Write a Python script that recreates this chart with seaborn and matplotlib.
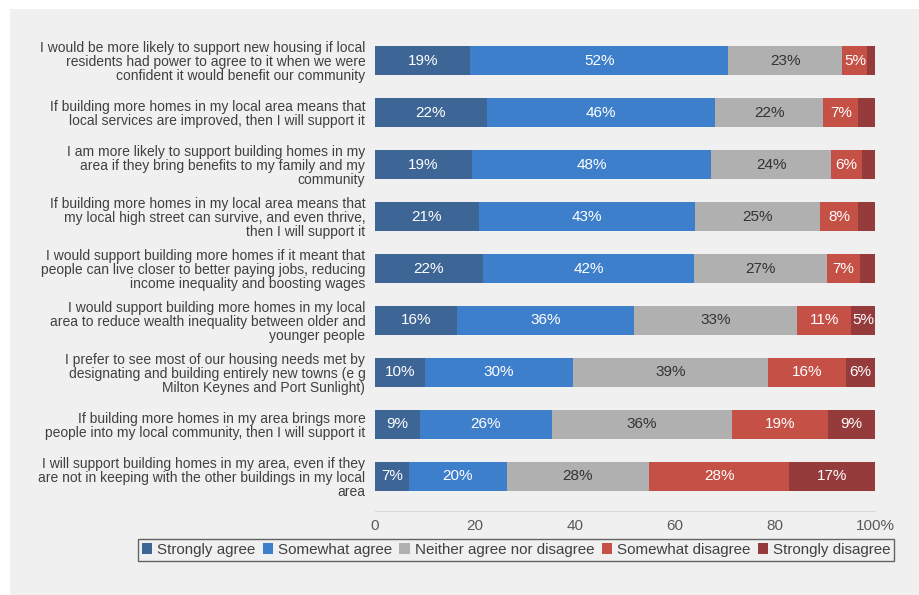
import matplotlib
matplotlib.use('Agg')
import matplotlib.pyplot as plt
from matplotlib.patches import Patch, Rectangle
import numpy as np
import pandas as pd
import seaborn as sns

questions = [
    "I would be more likely to support new housing if local\nresidents had power to agree to it when we were\nconfident it would benefit our community",
    "If building more homes in my local area means that\nlocal services are improved, then I will support it",
    "I am more likely to support building homes in my\narea if they bring benefits to my family and my\ncommunity",
    "If building more homes in my local area means that\nmy local high street can survive, and even thrive,\nthen I will support it",
    "I would support building more homes if it meant that\npeople can live closer to better paying jobs, reducing\nincome inequality and boosting wages",
    "I would support building more homes in my local\narea to reduce wealth inequality between older and\nyounger people",
    "I prefer to see most of our housing needs met by\ndesignating and building entirely new towns (e g\nMilton Keynes and Port Sunlight)",
    "If building more homes in my area brings more\npeople into my local community, then I will support it",
    "I will support building homes in my area, even if they\nare not in keeping with the other buildings in my local\narea",
]

strongly_agree = [19.1, 22.4, 19.4, 20.8, 21.6, 16.4, 10.0, 9.0, 6.8]
somewhat_agree = [51.6, 45.6, 47.8, 43.2, 42.2, 35.5, 29.6, 26.4, 19.6]
neither = [22.8, 21.7, 24.1, 25.0, 26.6, 32.6, 39.0, 36.0, 28.4]
somewhat_disagree = [5.0, 7.0, 6.1, 7.7, 6.6, 10.8, 15.6, 19.3, 28.1]
strongly_disagree = [1.5, 3.3, 2.6, 3.3, 3.0, 4.7, 5.8, 9.3, 17.1]

series = ['Strongly agree', 'Somewhat agree', 'Neither agree nor disagree',
          'Somewhat disagree', 'Strongly disagree']
colors = ['#3d6595', '#3e7fcc', '#b0b0b0', '#c55046', '#963b3b']
label_colors = ['white', 'white', '#333333', 'white', 'white']

df = pd.DataFrame({
    'question': questions,
    series[0]: strongly_agree,
    series[1]: somewhat_agree,
    series[2]: neither,
    series[3]: somewhat_disagree,
    series[4]: strongly_disagree,
})
cum = df[series].cumsum(axis=1)

bg = '#f0f0f0'
plt.rcParams['font.family'] = ['Liberation Sans', 'DejaVu Sans']

fig = plt.figure(figsize=(9.2, 5.95), dpi=100, facecolor='white')
fig.patches.append(Rectangle((10 / 920, 0), 1, 1 - 9 / 595,
                             transform=fig.transFigure, facecolor=bg,
                             edgecolor='none', zorder=-10))
ax = fig.add_axes([375 / 920, 84 / 595, 500 / 920, 476 / 595])
ax.set_facecolor(bg)

# draw cumulative totals from the right so each segment shows
for i in range(len(series) - 1, -1, -1):
    sns.barplot(x=cum[series[i]], y=df['question'], orient='h',
                color=colors[i], width=0.56, saturation=1, ax=ax)

for i, s in enumerate(series):
    for j, v in enumerate(df[s]):
        if v >= 4.5:
            ax.text(cum[s][j] - v / 2, j, f"{v:.0f}%", ha='center',
                    va='center', color=label_colors[i], fontsize=11)

ax.set_xlim(0, 100)
ax.set_ylim(8.67, -0.5)
ax.set_xticks([0, 20, 40, 60, 80, 100])
ax.set_xticklabels(['0', '20', '40', '60', '80', '100%'])
ax.set_xlabel('')
ax.set_ylabel('')
for sp in ['top', 'right', 'left']:
    ax.spines[sp].set_visible(False)
ax.spines['bottom'].set_color('#d9d9d9')
ax.tick_params(axis='y', length=0, pad=7, labelsize=10, labelcolor='#404040')
ax.tick_params(axis='x', length=0, pad=6, labelsize=11, labelcolor='#595959')
for t in ax.get_yticklabels():
    t.set_linespacing(1.0)

handles = [Patch(facecolor=c, edgecolor='none') for c in colors]
leg = fig.legend(handles, series, loc='center', bbox_to_anchor=(516 / 920, 1 - 550 / 595),
                 ncol=5, frameon=True, fancybox=False, fontsize=10.9,
                 handlelength=0.7, handleheight=0.7, handletextpad=0.3,
                 columnspacing=0.5, borderpad=0.25, labelcolor='#404040')
leg.get_frame().set_edgecolor('#404040')
leg.get_frame().set_facecolor(bg)
leg.get_frame().set_linewidth(1.0)

fig.savefig('out.png', dpi=100, facecolor='white')
